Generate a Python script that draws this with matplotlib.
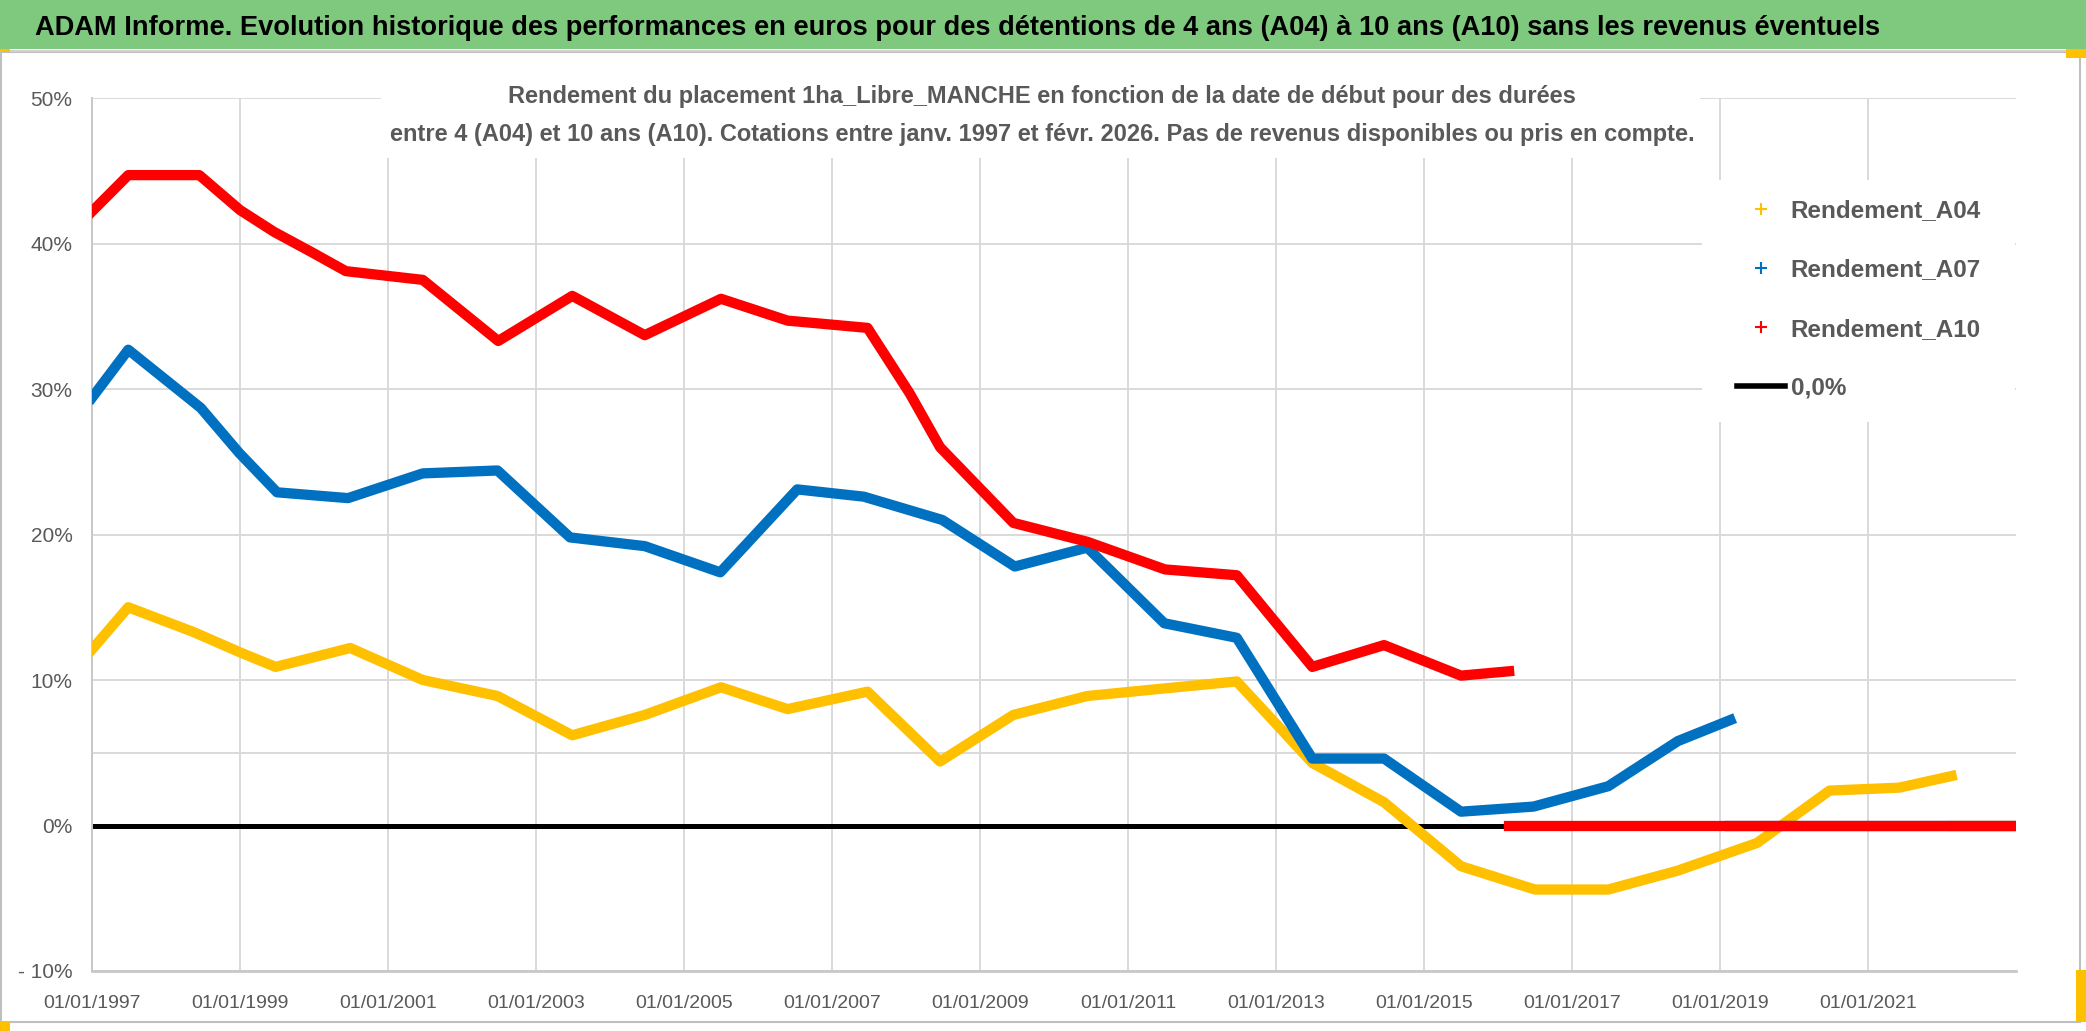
import matplotlib
matplotlib.use('Agg')
import matplotlib.pyplot as plt
from matplotlib.lines import Line2D
from matplotlib.patches import Rectangle

plt.rcParams['font.family'] = ['Liberation Sans', 'DejaVu Sans']

# data (x in decimal years, y in %)
yr_a04 = [1997.0, 1997.49, 1998.37, 1999.0, 1999.48, 2000.49, 2001.47, 2002.48, 2003.49, 2004.47,
          2005.5, 2006.4, 2007.48, 2008.46, 2009.45, 2010.45, 2011.45, 2012.47, 2013.49, 2014.46,
          2015.5, 2016.5, 2017.49, 2018.43, 2019.5, 2020.48, 2021.42, 2022.13]
a04 = [12.1, 15.0, 13.3, 11.9, 10.9, 12.2, 10.0, 8.9, 6.2, 7.6,
       9.5, 8.0, 9.2, 4.4, 7.6, 8.9, 9.4, 9.9, 4.3, 1.6,
       -2.8, -4.4, -4.4, -3.1, -1.2, 2.4, 2.6, 3.4]

yr_a07 = [1997.0, 1997.49, 1998.47, 1998.99, 1999.5, 2000.46, 2001.47, 2002.48, 2003.46, 2004.47,
          2005.49, 2006.53, 2007.43, 2008.49, 2009.47, 2010.45, 2011.49, 2012.47, 2013.49, 2014.46,
          2015.5, 2016.48, 2017.49, 2018.43, 2019.14]
a07 = [29.4, 32.7, 28.7, 25.6, 22.9, 22.5, 24.2, 24.4, 19.8, 19.2,
       17.4, 23.1, 22.6, 21.0, 17.8, 19.1, 13.9, 12.9, 4.6, 4.6,
       0.95, 1.3, 2.7, 5.8, 7.25]

yr_a10 = [1997.0, 1997.49, 1998.45, 1999.0, 1999.46, 1999.97, 2000.43, 2001.47, 2002.49, 2003.49,
          2004.47, 2005.5, 2006.4, 2007.48, 2008.05, 2008.46, 2009.45, 2010.45, 2011.5, 2012.47,
          2013.49, 2014.46, 2015.5, 2016.15]
a10 = [42.2, 44.7, 44.7, 42.3, 40.8, 39.4, 38.1, 37.5, 33.3, 36.4,
       33.7, 36.2, 34.7, 34.2, 29.7, 26.0, 20.8, 19.5, 17.6, 17.2,
       10.9, 12.4, 10.3, 10.6]

# series with no value any more are shown at 0
tail_a04 = [2022.13, 2023.0]
tail_a07 = [2019.14, 2023.0]
tail_a10 = [2016.15, 2023.0]
zero_x = [1997.0, 2023.0]

year_ticks = list(range(1997, 2022, 2))
year_labels = ['01/01/%d' % y for y in year_ticks]
pct_ticks = [-10, 0, 10, 20, 30, 40, 50]
pct_labels = ['- 10%', '0%', '10%', '20%', '30%', '40%', '50%']

c_a04 = '#FFC000'
c_a07 = '#0070C0'
c_a10 = '#FF0000'
grey_txt = '#595959'
grid_c = '#D9D9D9'

W, H = 2086, 1031
figure = plt.figure(figsize=(W / 100, H / 100), dpi=100)
axes = figure.add_axes([92 / W, 1 - 971 / H, (2016 - 92) / W, (971 - 98) / H])

axes.plot(zero_x, [0, 0], color='black', linewidth=3.6, solid_capstyle='butt', zorder=2, label='0,0%')
axes.plot(tail_a04, [0, 0], color=c_a04, linewidth=7.4, zorder=3)
axes.plot(yr_a04, a04, color=c_a04, linewidth=7.4, zorder=3)
axes.plot(tail_a07, [0, 0], color=c_a07, linewidth=7.4, zorder=4)
axes.plot(yr_a07, a07, color=c_a07, linewidth=7.4, zorder=4)
axes.plot(tail_a10, [0, 0], color=c_a10, linewidth=7.4, zorder=5)
axes.plot(yr_a10, a10, color=c_a10, linewidth=7.4, zorder=5)

axes.set_xlim(1997.0, 2023.0)
axes.set_ylim(-10, 50)
axes.set_xticks(year_ticks)
axes.set_xticklabels(year_labels)
axes.set_yticks(pct_ticks)
axes.set_yticklabels(pct_labels)
axes.tick_params(axis='x', length=0, pad=17, labelsize=14, labelcolor=grey_txt)
axes.tick_params(axis='y', length=0, pad=14, labelsize=15, labelcolor=grey_txt)
axes.set_axisbelow(True)
axes.grid(True, color=grid_c, linewidth=1.4)
axes.axhline(5, color=grid_c, linewidth=1.4, zorder=0.5)
for side in ['top', 'right']:
    axes.spines[side].set_visible(False)
axes.spines['left'].set_color('#C8C8C8')
axes.spines['left'].set_linewidth(1.4)
axes.spines['bottom'].set_color('#C8C8C8')
axes.spines['bottom'].set_linewidth(2)

# white boxes behind subtitle and legend (hide the gridlines there)
for (x0, y0, x1, y1) in [(381, 55, 1700, 158), (1702, 180, 2015, 422)]:
    axes.add_patch(Rectangle((x0 / W, 1 - y1 / H), (x1 - x0) / W, (y1 - y0) / H,
                             transform=figure.transFigure, facecolor='white',
                             edgecolor='none', zorder=1, clip_on=False))

handles = [
    Line2D([], [], color=c_a04, marker='+', linestyle='None', markersize=8, markeredgewidth=1.5),
    Line2D([], [], color=c_a07, marker='+', linestyle='None', markersize=8, markeredgewidth=1.5),
    Line2D([], [], color=c_a10, marker='+', linestyle='None', markersize=8, markeredgewidth=1.5),
    Line2D([], [], color='black', linewidth=4),
]
legend = axes.legend(handles, ['Rendement_A04', 'Rendement_A07', 'Rendement_A10', '0,0%'],
                     loc='upper left', bbox_to_anchor=(1730 / W, 1 - 192 / H),
                     bbox_transform=figure.transFigure, frameon=False,
                     fontsize=17.5, handlelength=1.95, handletextpad=0.25,
                     labelspacing=1.49, borderpad=0.3, borderaxespad=0)
for t in legend.get_texts():
    t.set_color(grey_txt)
    t.set_fontweight('bold')
legend.set_zorder(6)

# green title band and chart frame
figure.patches.append(Rectangle((0, 1 - 49 / H), 1, 49 / H, transform=figure.transFigure,
                                facecolor='#7FC97F', edgecolor='none', zorder=0))
figure.patches.append(Rectangle((1 / W, 1 - 1022 / H), 2079 / W, (1022 - 52) / H,
                                transform=figure.transFigure, facecolor='none',
                                edgecolor='#BFBFBF', linewidth=1.5, zorder=0))
figure.patches.append(Rectangle((0, 1 - 52 / H), 1, 2 / H, transform=figure.transFigure,
                                facecolor='#D0D0D0', edgecolor='none', zorder=0))
# small yellow selection handles of the sheet
for (x0, y0, x1, y1) in [(0, 49, 10, 52), (0, 1022, 10, 1031), (2066, 49, 2086, 58), (2076, 970, 2086, 1022)]:
    figure.patches.append(Rectangle((x0 / W, 1 - y1 / H), (x1 - x0) / W, (y1 - y0) / H,
                                    transform=figure.transFigure, facecolor='#FFC000',
                                    edgecolor='none', zorder=0))

figure.text(35 / W, 1 - 28 / H,
            'ADAM Informe. Evolution historique des performances en euros pour des détentions de 4 ans (A04) à 10 ans (A10) sans les revenus éventuels',
            ha='left', va='center', fontsize=19.6, fontweight='bold', color='black')
figure.text(1042 / W, 1 - 97 / H,
            'Rendement du placement 1ha_Libre_MANCHE en fonction de la date de début pour des durées',
            ha='center', va='center', fontsize=17, fontweight='bold', color=grey_txt)
figure.text(1042 / W, 1 - 135 / H,
            'entre 4 (A04) et 10 ans (A10). Cotations entre janv. 1997 et févr. 2026. Pas de revenus disponibles ou pris en compte.',
            ha='center', va='center', fontsize=17, fontweight='bold', color=grey_txt)

figure.savefig('out.png', dpi=100)
